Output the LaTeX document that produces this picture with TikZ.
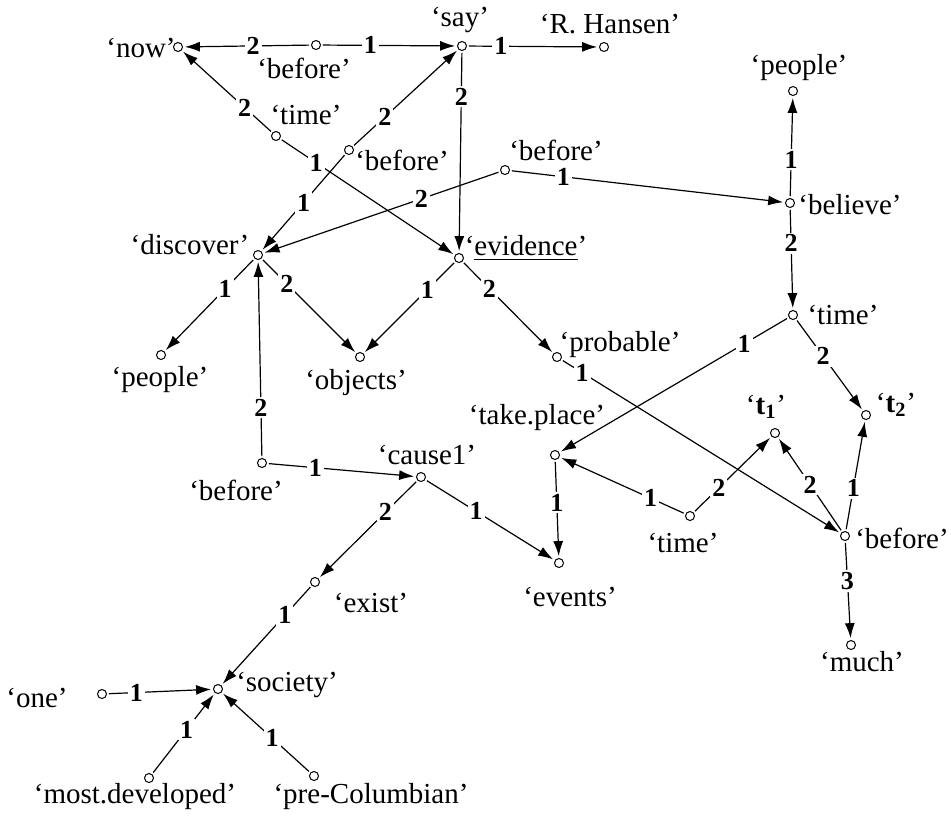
\documentclass[tikz,border=0pt]{standalone}
\usepackage{fontspec}
\setmainfont{Liberation Serif}
\usetikzlibrary{arrows.meta}

\begin{document}
\begin{tikzpicture}[knoten/.style={draw, circle, minimum size=4.5pt, inner sep=0pt, outer sep=1.2pt, line width=0.5pt},
			wort/.style={inner sep=0pt, font=\fontsize{14.5}{16}\selectfont},
			nr/.style={fill=white, inner sep=1pt, font=\fontsize{13}{15}\selectfont\bfseries},
			x=0.5pt, y=-0.5pt, line width=0.6pt,
			>={Latex[length=7.5pt,width=5pt]}]
			\useasboundingbox (0,0) rectangle (951,815);
			%Knoten zeichnen
			\node[knoten] (now) at (178,47) {};
			\node[knoten] (b1) at (316,45) {};
			\node[knoten] (say) at (462,46) {};
			\node[knoten] (han) at (604,47) {};
			\node[knoten] (tm1) at (276,136) {};
			\node[knoten] (b2) at (349,150) {};
			\node[knoten] (b3) at (505,170) {};
			\node[knoten] (pplT) at (793,91) {};
			\node[knoten] (bel) at (790,203) {};
			\node[knoten] (disc) at (258,255) {};
			\node[knoten] (evid) at (459,258) {};
			\node[knoten] (pplL) at (161,355) {};
			\node[knoten] (obj) at (360,357) {};
			\node[knoten] (prob) at (557,357) {};
			\node[knoten] (tm2) at (793,315) {};
			\node[knoten] (t2) at (866,415) {};
			\node[knoten] (t1) at (775,433) {};
			\node[knoten] (take) at (555,455) {};
			\node[knoten] (b4) at (262,463) {};
			\node[knoten] (cause) at (421,477) {};
			\node[knoten] (ev) at (559,563) {};
			\node[knoten] (tm3) at (690,516) {};
			\node[knoten] (b5) at (845,536) {};
			\node[knoten] (much) at (851,645) {};
			\node[knoten] (exist) at (315,582) {};
			\node[knoten] (soc) at (218,689) {};
			\node[knoten] (one) at (102,694) {};
			\node[knoten] (mdev) at (149,778) {};
			\node[knoten] (preC) at (314,776) {};
			%Beschriftung
			\node[wort] (now-t) at (141,48) {‘now’};
			\node[wort] (b1-t) at (304,68) {‘before’};
			\node[wort] (say-t) at (460,20) {‘say’};
			\node[wort] (han-t) at (610,24) {‘R. Hansen’};
			\node[wort] (tm1-t) at (306,115) {‘time’};
			\node[wort] (b2-t) at (402,160) {‘before’};
			\node[wort] (b3-t) at (556,150) {‘before’};
			\node[wort] (pplT-t) at (799,68) {‘people’};
			\node[wort] (bel-t) at (850,205) {‘believe’};
			\node[wort] (disc-t) at (190,245) {‘discover’};
			\node[wort] (evid-t) at (526,248) {‘\underline{evidence}’};
			\node[wort] (pplL-t) at (160,380) {‘people’};
			\node[wort] (obj-t) at (356,383) {‘objects’};
			\node[wort] (prob-t) at (620,345) {‘probable’};
			\node[wort] (tm2-t) at (843,315) {‘time’};
			\node[wort] (t2-t) at (896,405) {‘\textbf{t\textsubscript{2}}’};
			\node[wort] (t1-t) at (766,407) {‘\textbf{t\textsubscript{1}}’};
			\node[wort] (take-t) at (537,418) {‘take.place’};
			\node[wort] (b4-t) at (236,490) {‘before’};
			\node[wort] (cause-t) at (427,455) {‘cause1’};
			\node[wort] (ev-t) at (570,597) {‘events’};
			\node[wort] (tm3-t) at (683,543) {‘time’};
			\node[wort] (b5-t) at (902,538) {‘before’};
			\node[wort] (much-t) at (862,662) {‘much’};
			\node[wort] (exist-t) at (371,603) {‘exist’};
			\node[wort] (soc-t) at (287,685) {‘society’};
			\node[wort] (one-t) at (37,698) {‘one’};
			\node[wort] (mdev-t) at (135,797) {‘most.developed’};
			\node[wort] (preC-t) at (371,797) {‘pre-Columbian’};
			%Kanten zeichnen
			\draw[->] (b1) -- node[nr,pos=.45] {2} (now);
			\draw[->] (b1) -- node[nr,pos=.36] {1} (say);
			\draw[->] (say) -- node[nr,pos=.25] {1} (han);
			\draw[->] (tm1) -- node[nr,pos=.3] {2} (now);
			\draw[->] (tm1) -- node[nr,pos=.2] {1} (evid);
			\draw[->] (b2) -- node[nr,pos=.3] {2} (say);
			\draw[->] (b2) -- node[nr,pos=.5] {1} (disc);
			\draw[->] (say) -- node[nr,pos=.22] {2} (evid);
			\draw[->] (b3) -- node[nr,pos=.33] {2} (disc);
			\draw[->] (b3) -- node[nr,pos=.19] {1} (bel);
			\draw[->] (bel) -- node[nr,pos=.37] {1} (pplT);
			\draw[->] (bel) -- node[nr,pos=.34] {2} (tm2);
			\draw[->] (disc) -- node[nr,pos=.32] {1} (pplL);
			\draw[->] (disc) -- node[nr,pos=.26] {2} (obj);
			\draw[->] (evid) -- node[nr,pos=.3] {1} (obj);
			\draw[->] (evid) -- node[nr,pos=.29] {2} (prob);
			\draw[->] (prob) -- node[nr,pos=.07] {1} (b5);
			\draw[->] (tm2) -- node[nr,pos=.19] {1} (take);
			\draw[->] (tm2) -- node[nr,pos=.4] {2} (t2);
			\draw[->] (b4) -- node[nr,pos=.25] {2} (disc);
			\draw[->] (b4) -- node[nr,pos=.32] {1} (cause);
			\draw[->] (take) -- node[nr,pos=.43] {1} (ev);
			\draw[->] (cause) -- node[nr,pos=.39] {1} (ev);
			\draw[->] (cause) -- node[nr,pos=.32] {2} (exist);
			\draw[->] (tm3) -- node[nr,pos=.27] {1} (take);
			\draw[->] (tm3) -- node[nr,pos=.32] {2} (t1);
			\draw[->] (b5) -- node[nr,pos=.5] {2} (t1);
			\draw[->] (b5) -- node[nr,pos=.38] {1} (t2);
			\draw[->] (b5) -- node[nr,pos=.4] {3} (much);
			\draw[->] (exist) -- node[nr,pos=.29] {1} (soc);
			\draw[->] (one) -- node[nr,pos=.27] {1} (soc);
			\draw[->] (mdev) -- node[nr,pos=.55] {1} (soc);
			\draw[->] (preC) -- node[nr,pos=.43] {1} (soc);
		\end{tikzpicture}
\end{document}
